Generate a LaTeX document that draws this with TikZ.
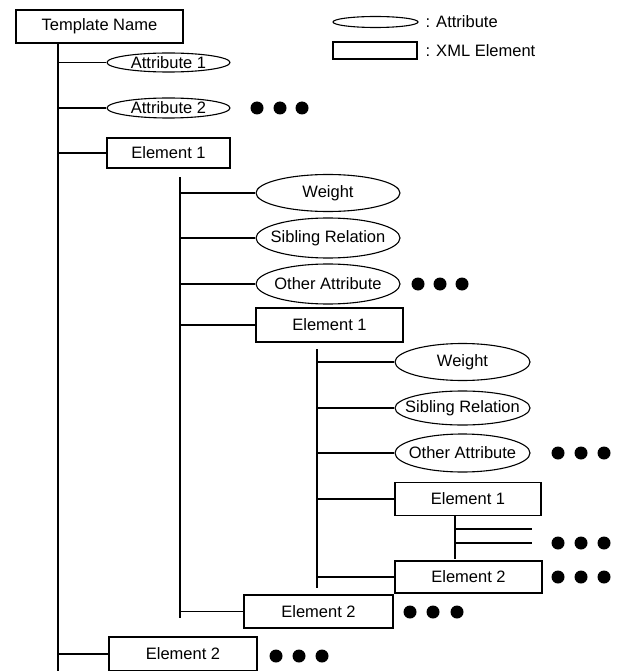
\documentclass[tikz,border=0pt]{standalone}
\usepackage{fontspec}
\setmainfont{Liberation Sans}
\usetikzlibrary{shapes.geometric}

\tikzset{
  every node/.style={font=\fontsize{16.5}{19}\selectfont},
  elem/.style={draw, rectangle, inner sep=0pt},
  attr/.style={draw, ellipse, inner xsep=-45pt, inner ysep=-10pt},
}

\begin{document}
\begin{tikzpicture}[x=1pt,y=-1pt,line width=1.1pt]
\useasboundingbox (0,0) rectangle (617,671);

% Legend
\node[attr, minimum width=85pt, minimum height=11pt] (keyattr) at (375.5,22) {};
\node[anchor=west, inner sep=0pt] (keyattrtext) at (425,22) {: Attribute};
\node[elem, minimum width=84pt, minimum height=17pt] (keyelem) at (375,50.5) {};
\node[anchor=west, inner sep=0pt] (keyelemtext) at (425,50.5) {: XML Element};

% Root
\node[elem, minimum width=167pt, minimum height=33pt] (root) at (99.5,26.5) {Template Name};

% Level 1
\node[attr, minimum width=123pt, minimum height=19pt] (attrA) at (168.5,62.5) {Attribute 1};
\node[attr, minimum width=123pt, minimum height=20pt] (attrB) at (168.5,108) {Attribute 2};
\node[elem, minimum width=123pt, minimum height=30pt] (elemA) at (168.5,153) {Element 1};
\node[elem, minimum width=148pt, minimum height=34pt] (elemB) at (183,654) {Element 2};

\coordinate (trunkA) at (58,43);
\coordinate (trunkAend) at (58,671);
\draw (trunkA) -- (trunkAend);
\foreach \n in {attrA,attrB,elemA,elemB}
  \draw (trunkA |- \n.west) -- (\n.west);

% Level 2
\node[attr, minimum width=144pt, minimum height=37pt] (weightA) at (328,193) {Weight};
\node[attr, minimum width=144pt, minimum height=40pt] (sibA) at (328,238) {Sibling Relation};
\node[attr, minimum width=144pt, minimum height=40pt] (otherA) at (328,284) {Other Attribute};
\node[elem, minimum width=147pt, minimum height=34pt] (elemC) at (329.5,325) {Element 1};
\node[elem, minimum width=149pt, minimum height=33pt] (elemD) at (318.5,611.5) {Element 2};

\coordinate (trunkB) at (180,177);
\coordinate (trunkBend) at (180,618);
\draw (trunkB) -- (trunkBend);
\foreach \n in {weightA,sibA,otherA,elemC,elemD}
  \draw (trunkB |- \n.west) -- (\n.west);

% Level 3
\node[attr, minimum width=135pt, minimum height=37pt] (weightB) at (462.5,362) {Weight};
\node[attr, minimum width=135pt, minimum height=34pt] (sibB) at (462.5,408) {Sibling Relation};
\node[attr, minimum width=135pt, minimum height=38pt] (otherB) at (462.5,453) {Other Attribute};
\node[elem, minimum width=146pt, minimum height=33pt] (elemE) at (468,499) {Element 1};
\node[elem, minimum width=147pt, minimum height=32pt] (elemF) at (468.5,577) {Element 2};

\coordinate (trunkC) at (317,349);
\coordinate (trunkCend) at (317,588);
\draw (trunkC) -- (trunkCend);
\foreach \n in {weightB,sibB,otherB,elemE,elemF}
  \draw (trunkC |- \n.west) -- (\n.west);

% Level 4 (open ends)
\coordinate (trunkD) at (455,515);
\coordinate (trunkDend) at (455,559);
\coordinate (stubA) at (532,529);
\coordinate (stubB) at (532,543);
\draw (trunkD) -- (trunkDend);
\draw (trunkD |- stubA) -- (stubA);
\draw (trunkD |- stubB) -- (stubB);

% Dots
\foreach \x in {257,280,302} \fill (\x,108) circle (6.5pt);
\foreach \x in {418,440,462} \fill (\x,284) circle (6.5pt);
\foreach \x in {558,581,604} \fill (\x,453) circle (6.5pt);
\foreach \x in {558,581,604} \fill (\x,543) circle (6.5pt);
\foreach \x in {558,581,604} \fill (\x,577) circle (6.5pt);
\foreach \x in {410,433,457} \fill (\x,612) circle (6.5pt);
\foreach \x in {276,299,322} \fill (\x,656) circle (6.5pt);

\end{tikzpicture}
\end{document}
